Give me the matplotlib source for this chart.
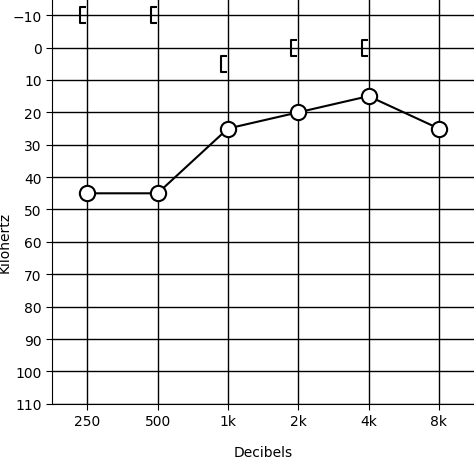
import matplotlib
matplotlib.use("Agg")
import matplotlib.pyplot as plt
from matplotlib.path import Path

freqs = ["250", "500", "1k", "2k", "4k", "8k"]
air = [45, 45, 25, 20, 15, 25]
bone_idx = [0, 1, 2, 3, 4]
bone = [-10, -10, 5, 0, 0]

fig = plt.figure(figsize=(4.74, 4.6), dpi=100)
ax = fig.add_axes([0.11, 0.12, 0.89, 0.88])
x = list(range(len(freqs)))
ax.plot(x, air, color="black", lw=1.5, marker="o", ms=11, mfc="white", mec="black", mew=1.5, zorder=3)
br = Path([(-0.1, 1), (-0.85, 1), (-0.85, -1), (-0.1, -1)], [Path.MOVETO, Path.LINETO, Path.LINETO, Path.LINETO])
ax.plot(bone_idx, bone, ls="none", marker=br, ms=12, mfc="none", mec="black", mew=1.5, zorder=3)
ax.set_xlim(-0.5, 5.5)
ax.set_ylim(110, -15)
ax.set_xticks(x)
ax.set_xticklabels(freqs)
ax.set_yticks(range(-10, 111, 10))
ax.set_yticklabels(["\u221210"] + [str(v) for v in range(0, 111, 10)])
ax.grid(True, color="black", lw=1)
ax.tick_params(labelsize=10, length=4)
ax.set_xlabel("Decibels", fontsize=10, labelpad=12)
ax.set_ylabel("Kilohertz", fontsize=10)
ax.yaxis.set_label_coords(-0.095, 0.4)
for s in ["top", "right"]:
    ax.spines[s].set_visible(False)
fig.savefig("out.png", dpi=100)
